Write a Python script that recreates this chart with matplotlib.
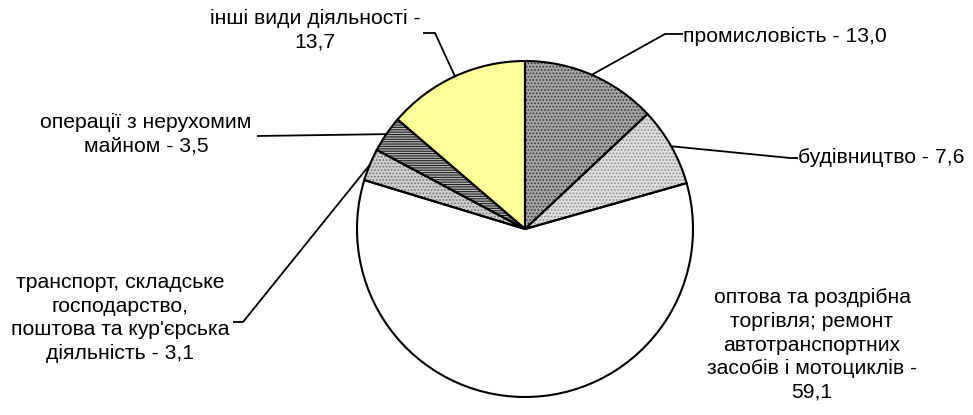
import matplotlib
matplotlib.use("Agg")
import matplotlib.pyplot as plt
import numpy as np

labels = ["промисловість - 13,0",
          "будівництво - 7,6",
          "оптова та роздрібна\nторгівля; ремонт\nавтотранспортних\nзасобів і мотоциклів -\n59,1",
          "транспорт, складське\nгосподарство,\nпоштова та кур'єрська\nдіяльність - 3,1",
          "операції з нерухомим\nмайном - 3,5",
          "інші види діяльності -\n13,7"]
values = [13.0, 7.6, 59.1, 3.1, 3.5, 13.7]
faces = ["#a8a8a8", "#dedede", "#ffffff", "#cfcfcf", "#b8b8b8", "#ffff99"]
hatch_cols = ["#333333", "#8c8c8c", "#ffffff", "#707070", "#1e1e1e", "#ffff99"]
hatches = [".....", ".....", None, ".....", "-------", None]

plt.rcParams['font.family'] = ['Liberation Sans', 'DejaVu Sans']
plt.rcParams['hatch.linewidth'] = 0.8

W, H = 973, 415
fig = plt.figure(figsize=(W / 100, H / 100), dpi=100)
ax = fig.add_axes([0, 0, 1, 1])

cx, cy, R = 525, H - 229, 168
wedges, _ = ax.pie(values, startangle=90, counterclock=False, colors=faces,
                   center=(cx, cy), radius=R,
                   wedgeprops=dict(linewidth=0))
for w, hc, h in zip(wedges, hatch_cols, hatches):
    if h:
        w.set_hatch(h)
        w.set_edgecolor(hc)
        w.set_linewidth(0)
ax.pie(values, startangle=90, counterclock=False, center=(cx, cy), radius=R,
       wedgeprops=dict(fill=False, edgecolor="black", linewidth=1.5))

ax.set_xlim(0, W)
ax.set_ylim(0, H)
ax.set_aspect('equal')
ax.axis('off')

# label layout: (text x, text y, ha, elbow point, line end near text)
layout = [
    (683, 36, 'left', (665, 34), (683, 34)),
    (798, 157, 'left', (790, 158), (798, 158)),
    (812, 345, 'center', None, None),
    (120, 318, 'center', (243, 322), (233, 322)),
    (146, 134, 'center', None, (257, 136)),
    (315, 30, 'center', (435, 33), (423, 33)),
]

fs = 15.2
for w, lab, (tx, ty, ha, elbow, lend) in zip(wedges, labels, layout):
    ang = np.deg2rad((w.theta1 + w.theta2) / 2)
    ex, ey = cx + R * np.cos(ang), cy + R * np.sin(ang)
    ax.text(tx, H - ty, lab, ha=ha, va='center', fontsize=fs,
            linespacing=1.30, color='black')
    if lend is None:
        continue
    pts = [(ex, ey)]
    if elbow is not None:
        pts.append((elbow[0], H - elbow[1]))
    pts.append((lend[0], H - lend[1]))
    xs, ys = zip(*pts)
    ax.plot(xs, ys, color='black', linewidth=1.3, solid_capstyle='butt')

fig.savefig("out.png", dpi=100)
